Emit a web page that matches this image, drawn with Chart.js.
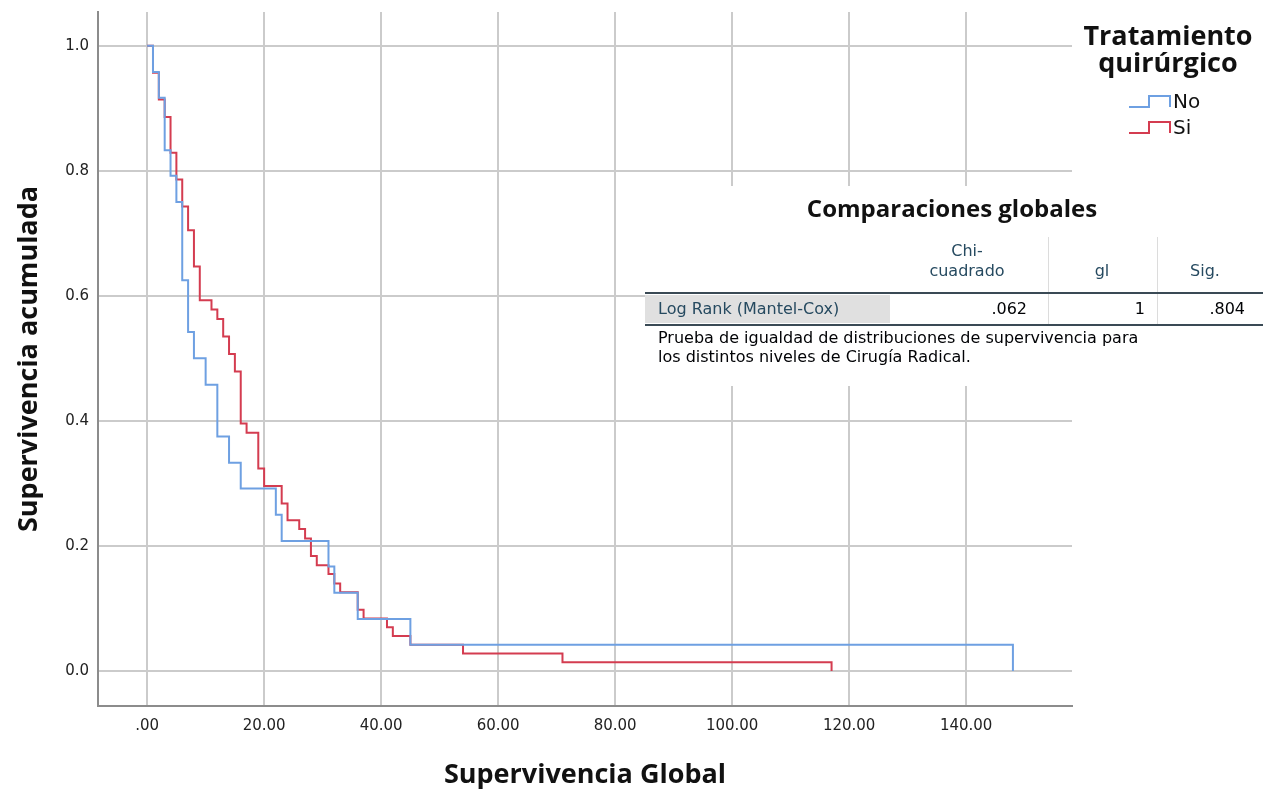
<!DOCTYPE html>
<html>
<head>
<meta charset="utf-8">
<script src="https://cdn.jsdelivr.net/npm/chart.js@4.4.0/dist/chart.umd.min.js"></script>
<style>
  html, body { margin: 0; padding: 0; background: #fff; }
  #wrap { width: 1263px; height: 789px; }
</style>
</head>
<body>
<div id="wrap"><canvas id="kmChart" width="1263" height="789"></canvas></div>
<script>
// Kaplan-Meier steps (time, survival after the event)
const noTimes    = [0, 1, 2, 3, 4, 5, 6, 7, 8, 10, 12, 14, 16, 22, 23, 31, 32, 36, 45, 148];
const noSurvival = [1.0, 0.958, 0.917, 0.833, 0.792, 0.75, 0.625, 0.542, 0.5, 0.458, 0.375, 0.333, 0.292, 0.25, 0.208, 0.167, 0.125, 0.083, 0.042, 0];

const siTimes    = [0, 1, 2, 3, 4, 5, 6, 7, 8, 9, 11, 12, 13, 14, 15, 16, 17, 19, 20, 23, 24, 26, 27, 28, 29, 31, 32, 33, 36, 37, 41, 42, 45, 54, 71, 117];
const siSurvival = [1.0, 0.957, 0.914, 0.886, 0.829, 0.786, 0.743, 0.705, 0.647, 0.593, 0.578, 0.563, 0.535, 0.507, 0.479, 0.396, 0.381, 0.324, 0.296, 0.268, 0.241, 0.227, 0.212, 0.184, 0.169, 0.155, 0.140, 0.126, 0.098, 0.084, 0.070, 0.056, 0.042, 0.028, 0.014, 0];

const xTicks = [0, 20, 40, 60, 80, 100, 120, 140];
const yTicks = [0, 0.2, 0.4, 0.6, 0.8, 1.0];

const groupLabels = ['No', 'Si'];
const groupColors = ['#6ea0e2', '#d43c50'];

// Comparaciones globales table
const testHeaders = ['Chi-\ncuadrado', 'gl', 'Sig.'];
const testNames   = ['Log Rank (Mantel-Cox)'];
const testValues  = ['.062', '1', '.804'];

function toPoints(times, surv) {
    return times.map((t, i) => ({ x: t, y: surv[i] }));
}

const overlayPlugin = {
    id: 'overlay',
    afterDraw(chart) {
        const ctx = chart.ctx;
        ctx.save();

        // legend
        ctx.fillStyle = '#111';
        ctx.font = 'bold 27px "Open Sans"';
        ctx.textAlign = 'center';
        ctx.textBaseline = 'middle';
        ctx.fillText('Tratamiento', 1168, 37);
        ctx.fillText('quirúrgico', 1168, 64);

        groupLabels.forEach((lab, i) => {
            const y = 102 + i * 26;
            ctx.strokeStyle = groupColors[i];
            ctx.lineWidth = 2;
            ctx.beginPath();
            ctx.moveTo(1129, y + 5);
            ctx.lineTo(1149, y + 5);
            ctx.lineTo(1149, y - 6);
            ctx.lineTo(1170, y - 6);
            ctx.lineTo(1170, y + 5);
            ctx.stroke();
            ctx.fillStyle = '#111';
            ctx.font = '20px "DejaVu Sans"';
            ctx.textAlign = 'left';
            ctx.fillText(lab, 1173, y + 1);
        });

        // table box hides the grid behind it
        ctx.fillStyle = '#fff';
        ctx.fillRect(645, 186, 618, 200);

        ctx.fillStyle = '#111';
        ctx.font = 'bold 24px "Open Sans"';
        ctx.textAlign = 'center';
        ctx.fillText('Comparaciones globales', 952, 210);

        // column separators
        ctx.strokeStyle = '#dcdcdc';
        ctx.lineWidth = 1;
        [1048, 1157].forEach(x => {
            ctx.beginPath();
            ctx.moveTo(x + 0.5, 237);
            ctx.lineTo(x + 0.5, 324);
            ctx.stroke();
        });

        // row label cell
        ctx.fillStyle = '#e0e0e0';
        ctx.fillRect(645, 295, 245, 28);

        ctx.strokeStyle = '#3a4a55';
        ctx.lineWidth = 2;
        ctx.beginPath();
        ctx.moveTo(645, 293); ctx.lineTo(1263, 293);
        ctx.moveTo(645, 325); ctx.lineTo(1263, 325);
        ctx.stroke();

        ctx.font = '16px "DejaVu Sans"';
        ctx.fillStyle = '#264a60';
        const colCenters = [967, 1102, 1205];
        testHeaders.forEach((h, i) => {
            const lines = h.split('\n');
            lines.forEach((ln, j) => {
                ctx.fillText(ln, colCenters[i], 272 - (lines.length - 1 - j) * 20);
            });
        });

        ctx.textAlign = 'left';
        ctx.fillText(testNames[0], 658, 310);

        ctx.fillStyle = '#010205';
        ctx.textAlign = 'right';
        const colRights = [1027, 1145, 1245];
        testValues.forEach((v, i) => ctx.fillText(v, colRights[i], 310));

        ctx.textAlign = 'left';
        ctx.fillText('Prueba de igualdad de distribuciones de supervivencia para', 658, 339);
        ctx.fillText('los distintos niveles de Cirugía Radical.', 658, 358);

        ctx.restore();
    }
};

const ctx = document.getElementById('kmChart');

new Chart(ctx, {
    type: 'line',
    data: {
        datasets: [
            {
                label: groupLabels[0],
                data: toPoints(noTimes, noSurvival),
                borderColor: groupColors[0],
                borderWidth: 2,
                pointRadius: 0,
                stepped: 'before',
                fill: false
            },
            {
                label: groupLabels[1],
                data: toPoints(siTimes, siSurvival),
                borderColor: groupColors[1],
                borderWidth: 2,
                pointRadius: 0,
                stepped: 'before',
                fill: false
            }
        ]
    },
    options: {
        responsive: false,
        animation: false,
        devicePixelRatio: 1,
        layout: { padding: { top: 12, right: 191, left: 0, bottom: 0 } },
        plugins: {
            legend: { display: false },
            tooltip: { enabled: false }
        },
        scales: {
            x: {
                type: 'linear',
                min: -8.4,
                max: 158.1,
                afterBuildTicks: s => { s.ticks = xTicks.map(v => ({ value: v })); },
                afterFit: s => { s.height = 83; s.paddingLeft = 0; s.paddingRight = 0; },
                ticks: {
                    callback: v => v === 0 ? '.00' : v.toFixed(2),
                    font: { family: 'DejaVu Sans', size: 15 },
                    color: '#222',
                    padding: 11,
                    maxRotation: 0
                },
                grid: { color: '#cbcbcb', lineWidth: 2, drawTicks: false },
                border: { color: '#8c8c8c', width: 2 },
                title: {
                    display: true,
                    text: 'Supervivencia Global',
                    font: { family: 'Open Sans', size: 27, weight: 'bold', lineHeight: 1 },
                    color: '#111',
                    padding: 0
                }
            },
            y: {
                min: -0.056,
                max: 1.054,
                afterBuildTicks: s => { s.ticks = yTicks.map(v => ({ value: v })); },
                afterFit: s => { s.width = 98; s.paddingTop = 0; s.paddingBottom = 0; },
                ticks: {
                    callback: v => v.toFixed(1),
                    font: { family: 'DejaVu Sans', size: 15 },
                    color: '#222',
                    padding: 9
                },
                grid: { color: '#cbcbcb', lineWidth: 2, drawTicks: false },
                border: { color: '#8c8c8c', width: 2 },
                title: {
                    display: true,
                    text: 'Supervivencia acumulada',
                    font: { family: 'Open Sans', size: 27, weight: 'bold' },
                    color: '#111',
                    padding: { top: 13, bottom: 0 }
                }
            }
        }
    },
    plugins: [overlayPlugin]
});
</script>
</body>
</html>
